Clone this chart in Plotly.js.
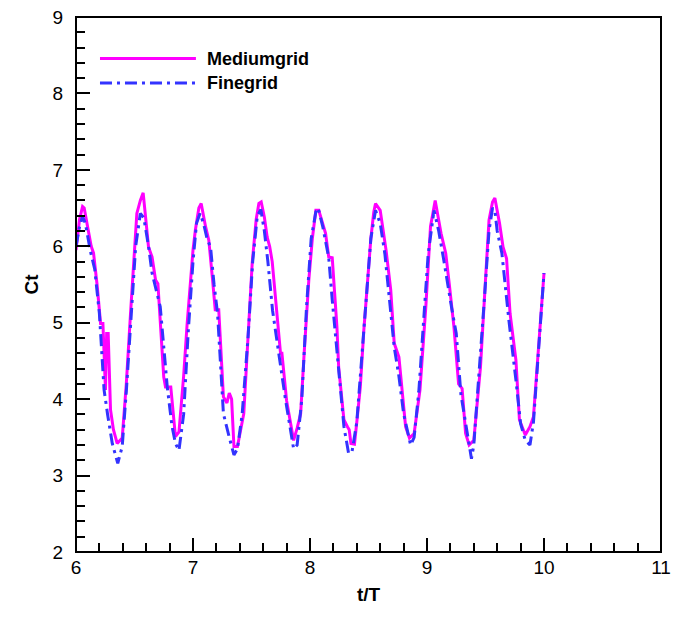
<!DOCTYPE html>
<html>
<head>
<meta charset="utf-8">
<script src="https://cdn.plot.ly/plotly-3.0.1.min.js"></script>
<style>html,body{margin:0;padding:0;background:#fff;}#chart{width:679px;height:619px;}</style>
</head>
<body>
<div id="chart"></div>
<script>
// Series names
var seriesNames = ["Mediumgrid", "Finegrid"];

// Mediumgrid
var mediumT = [6.00,6.03,6.056,6.07,6.10,6.13,6.15,6.18,6.21,6.23,6.252,6.262,6.275,6.295,6.32,6.352,6.395,6.43,6.466,6.50,6.52,6.55,6.574,6.60,6.62,6.65,6.68,6.70,6.72,6.75,6.765,6.81,6.85,6.88,6.92,6.95,7.00,7.02,7.05,7.07,7.107,7.135,7.165,7.19,7.22,7.26,7.29,7.31,7.33,7.35,7.38,7.434,7.47,7.506,7.54,7.563,7.583,7.61,7.634,7.655,7.677,7.70,7.72,7.748,7.76,7.79,7.80,7.83,7.85,7.86,7.89,7.92,7.95,7.99,8.02,8.05,8.075,8.10,8.133,8.16,8.19,8.21,8.23,8.245,8.27,8.29,8.32,8.335,8.35,8.38,8.40,8.43,8.46,8.49,8.52,8.545,8.56,8.60,8.65,8.69,8.72,8.76,8.79,8.817,8.85,8.89,8.94,8.99,9.03,9.07,9.12,9.16,9.19,9.23,9.27,9.30,9.33,9.36,9.40,9.457,9.50,9.53,9.56,9.58,9.62,9.65,9.68,9.71,9.76,9.79,9.84,9.86,9.88,9.91,9.955,10.0];
var mediumCt = [5.95,6.35,6.52,6.50,6.25,6.00,5.91,5.50,4.99,4.99,4.12,4.86,4.86,3.86,3.60,3.42,3.49,4.20,5.12,5.95,6.43,6.60,6.70,6.30,5.99,5.86,5.56,5.51,5.00,4.29,4.16,4.16,3.51,3.57,4.30,4.99,5.95,6.21,6.50,6.56,6.26,6.08,5.60,5.17,5.17,4.03,3.95,4.08,4.00,3.38,3.38,3.81,4.80,5.78,6.35,6.56,6.58,6.38,6.12,6.00,5.80,5.40,5.03,4.60,4.60,4.07,3.98,3.72,3.55,3.46,3.62,3.81,4.60,5.56,6.10,6.47,6.47,6.35,6.17,5.86,5.85,5.40,4.95,4.42,4.00,3.73,3.64,3.60,3.42,3.41,3.70,4.16,4.90,5.47,6.10,6.45,6.56,6.47,5.95,5.43,4.73,4.55,4.10,3.64,3.49,3.55,4.12,5.21,6.26,6.60,6.17,5.91,5.51,4.95,4.20,4.14,3.55,3.40,3.46,4.42,5.56,6.34,6.58,6.63,6.30,5.99,5.84,5.12,4.51,3.73,3.53,3.58,3.64,3.77,4.68,5.65];

// Finegrid
var fineT = [6.00,6.03,6.056,6.08,6.124,6.16,6.20,6.24,6.27,6.31,6.357,6.395,6.43,6.47,6.51,6.55,6.58,6.62,6.65,6.72,6.75,6.78,6.82,6.85,6.88,6.92,6.96,7.00,7.03,7.06,7.09,7.12,7.15,7.18,7.21,7.235,7.26,7.31,7.35,7.38,7.42,7.47,7.51,7.55,7.58,7.61,7.64,7.68,7.72,7.75,7.79,7.84,7.86,7.89,7.93,7.97,8.01,8.05,8.07,8.11,8.16,8.19,8.23,8.29,8.33,8.36,8.40,8.44,8.48,8.52,8.56,8.60,8.64,8.68,8.72,8.76,8.80,8.86,8.89,8.93,8.97,9.01,9.06,9.10,9.14,9.17,9.21,9.25,9.29,9.35,9.38,9.40,9.44,9.49,9.53,9.56,9.58,9.60,9.64,9.70,9.76,9.80,9.84,9.88,9.91,9.96,10.0];
var fineCt = [6.00,6.25,6.39,6.30,5.93,5.70,5.12,4.12,3.80,3.42,3.16,3.38,4.10,5.00,6.00,6.43,6.37,6.00,5.65,5.21,4.70,4.16,3.65,3.42,3.33,3.80,4.90,5.80,6.30,6.43,6.30,6.10,5.99,5.50,5.12,4.47,3.81,3.50,3.27,3.35,3.80,4.80,5.80,6.40,6.48,6.20,5.80,5.16,4.70,4.42,4.00,3.51,3.35,3.40,4.00,5.20,6.10,6.45,6.50,6.25,5.85,5.30,4.60,3.64,3.29,3.32,3.70,4.50,5.40,6.10,6.47,6.30,5.90,5.30,4.68,4.30,3.81,3.40,3.50,4.10,5.00,5.90,6.47,6.20,5.85,5.56,5.20,4.86,4.06,3.50,3.22,3.40,4.20,5.30,6.20,6.50,6.47,6.20,5.91,5.03,4.25,3.68,3.46,3.40,3.70,4.80,5.65];

var colors = ["#ff00ff", "#3333ff"];
var FONT = "Arial, 'Liberation Sans', Helvetica, sans-serif";

var traces = [
  {x: mediumT, y: mediumCt, type: "scatter", mode: "lines", name: seriesNames[0],
   line: {color: colors[0], width: 3}},
  {x: fineT, y: fineCt, type: "scatter", mode: "lines", name: seriesNames[1],
   line: {color: colors[1], width: 3, dash: "12px,5px,3px,5px"}}
];

// plot frame drawn as a paper rectangle (axis lines off so inside ticks are kept)
var shapes = [{type: "rect", xref: "paper", yref: "paper", x0: 0, x1: 1, y0: 0, y1: 1,
  line: {color: "#000", width: 2}, fillcolor: "rgba(0,0,0,0)", layer: "above"}];
var annotations = [];
var legY = [0.9224, 0.8766];
for (var i = 0; i < 2; i++) {
  shapes.push({type: "line", xref: "paper", yref: "paper", x0: 0.041, x1: 0.205, y0: legY[i], y1: legY[i],
    line: {color: colors[i], width: 3, dash: i === 1 ? "12px,5px,3px,5px" : "solid"}});
  annotations.push({xref: "paper", yref: "paper", x: 0.2205, y: legY[i], xanchor: "left", yanchor: "middle",
    text: "<b>" + seriesNames[i] + "</b>", showarrow: false, font: {family: FONT, size: 18, color: "#000"}});
}

var layout = {
  width: 679, height: 619,
  margin: {l: 76, r: 18, t: 17, b: 67},
  paper_bgcolor: "#fff", plot_bgcolor: "#fff",
  showlegend: false,
  xaxis: {
    range: [6, 11], tickmode: "linear", dtick: 1, tick0: 6,
    showgrid: false, zeroline: false, showline: false,
    ticks: "inside", ticklen: 14, tickwidth: 2, tickcolor: "#000",
    minor: {dtick: 0.2, ticks: "inside", ticklen: 9, tickwidth: 1.5, tickcolor: "#000", showgrid: false},
    tickfont: {family: FONT, size: 19, color: "#000"}, ticklabelstandoff: 2,
    title: {text: "<b>t/T</b>", font: {family: FONT, size: 19, color: "#000"}, standoff: 10}
  },
  yaxis: {
    range: [2, 9], tickmode: "linear", dtick: 1, tick0: 2, ticklabelstandoff: 12,
    showgrid: false, zeroline: false, showline: false,
    ticks: "inside", ticklen: 14, tickwidth: 2, tickcolor: "#000",
    minor: {dtick: 0.2, ticks: "inside", ticklen: 9, tickwidth: 1.5, tickcolor: "#000", showgrid: false},
    tickfont: {family: FONT, size: 19, color: "#000"},
    title: {text: "<b>Ct</b>", font: {family: FONT, size: 19, color: "#000"}, standoff: 8}
  },
  shapes: shapes,
  annotations: annotations
};

Plotly.newPlot("chart", traces, layout, {displayModeBar: false});
</script>
</body>
</html>
